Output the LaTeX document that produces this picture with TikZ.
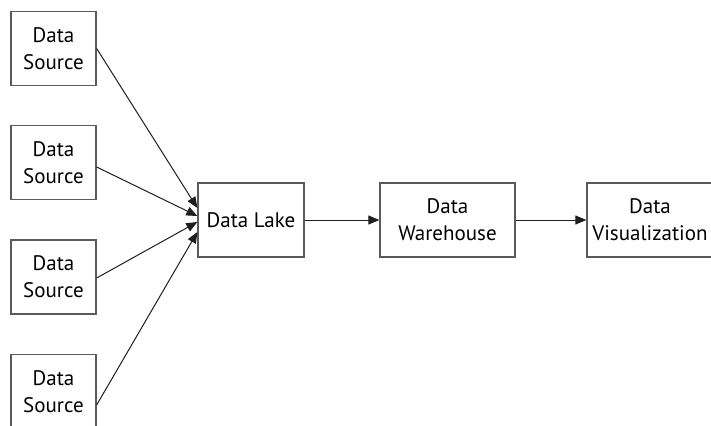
\documentclass[tikz,border=0pt]{standalone}
\usepackage{fontspec}
\setmainfont{PT Sans}
\usetikzlibrary{arrows.meta}
\definecolor{boxline}{HTML}{5A5A5A}
\definecolor{wire}{HTML}{1E1E1E}
\tikzset{
  labelfont/.style={font=\fontsize{21}{27}\selectfont},
  stagebox/.style={draw=boxline, line width=1.3pt, fill=white,
    minimum width=#1, minimum height=74pt, inner sep=0pt, align=center,
    labelfont},
  stagebox/.default=85pt,
  feed/.style={draw=wire, line width=1pt, -{Triangle[length=11pt,width=9pt]}}
}
\begin{document}
\begin{tikzpicture}[x=1pt,y=-1pt]
  \useasboundingbox (0,0) rectangle (711,425);
  \clip (0,0) rectangle (711,425);
  % sources
  \node[stagebox] (s1) at (53.5,48.5) {Data\\Source};
  \node[stagebox] (s2) at (53.5,162.5) {Data\\Source};
  \node[stagebox] (s3) at (53.5,277) {Data\\Source};
  \node[stagebox] (s4) at (53.5,391.5) {Data\\Source};
  % pipeline stages
  \node[stagebox=106pt] (lake) at (251,220) {Data Lake};
  \node[stagebox=135pt] (wh) at (447.5,220) {Data\\Warehouse};
  \node[stagebox=140pt] (vis) at (657,220) {};
  \node[align=center, inner sep=0pt, labelfont] (vistext) at (650,220) {Data\\Visualization};
  % feeds into the lake
  \draw[feed] (s1.east) -- ([yshift=12pt]lake.west);
  \draw[feed] ([yshift=-4.5pt]s2.east) -- ([yshift=4pt]lake.west);
  \draw[feed] ([yshift=-1pt]s3.east) -- ([yshift=-2pt]lake.west);
  \draw[feed] ([yshift=-13.5pt]s4.east) -- ([yshift=-12pt]lake.west);
  % downstream flow
  \draw[feed] (lake.east) -- (wh.west);
  \draw[feed] (wh.east) -- (vis.west);
\end{tikzpicture}
\end{document}
